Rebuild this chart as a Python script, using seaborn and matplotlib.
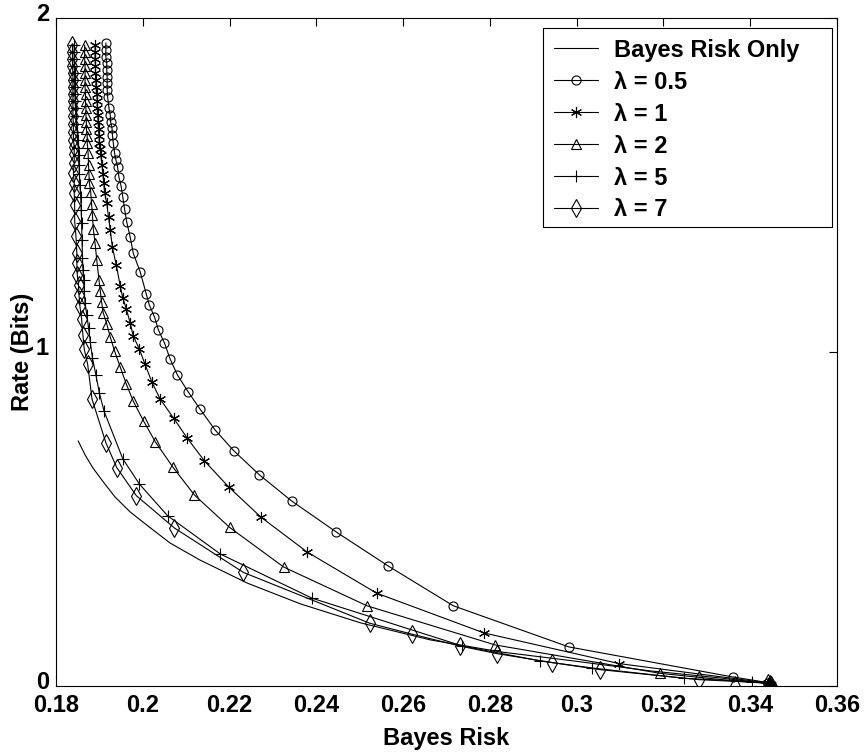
import numpy as np
import matplotlib
matplotlib.use("Agg")
import matplotlib.pyplot as plt
import matplotlib.transforms as mtransforms
from matplotlib.patches import Rectangle
import seaborn as sns

# Rate versus Bayes risk for the plain Bayes-risk design and several lambda weights
risk_bayes = [0.1851, 0.1867, 0.1885, 0.1909, 0.1936, 0.1971, 0.2015, 0.2063, 0.2132,
              0.2241, 0.2363, 0.2502, 0.2663, 0.2825, 0.2993, 0.3171, 0.3332, 0.3448]
rate_bayes = [0.734, 0.692, 0.653, 0.611, 0.566, 0.521, 0.476, 0.428, 0.377,
              0.308, 0.246, 0.189, 0.138, 0.102, 0.075, 0.045, 0.024, 0.006]

risk_l05 = [0.1915, 0.1915, 0.1915, 0.1917, 0.1917, 0.1918, 0.1918, 0.1918, 0.1919,
            0.1922, 0.1925, 0.1926, 0.1929, 0.1930, 0.1932, 0.1935, 0.1938, 0.1942, 0.1945,
            0.1950, 0.1954, 0.1958, 0.1963, 0.1971, 0.1978, 0.1994, 0.2008, 0.2015, 0.2027,
            0.2036, 0.2050, 0.2063, 0.2080, 0.2105, 0.2132, 0.2167, 0.2210, 0.2269, 0.2343,
            0.2446, 0.2566, 0.2716, 0.2982, 0.3360, 0.3442, 0.3445, 0.3448]
rate_l05 = [1.925, 1.904, 1.883, 1.865, 1.844, 1.823, 1.805, 1.784, 1.763,
            1.731, 1.710, 1.689, 1.671, 1.650, 1.626, 1.596, 1.575, 1.554, 1.524,
            1.497, 1.464, 1.428, 1.389, 1.344, 1.296, 1.240, 1.174, 1.141, 1.105,
            1.066, 1.027, 0.979, 0.931, 0.880, 0.829, 0.766, 0.704, 0.632, 0.554,
            0.461, 0.359, 0.240, 0.117, 0.027, 0.010, 0.006, 0.004]

risk_l1 = [0.1890, 0.1890, 0.1890, 0.1891, 0.1891, 0.1892, 0.1892, 0.1894, 0.1895,
           0.1895, 0.1896, 0.1897, 0.1898, 0.1899, 0.1900, 0.1902, 0.1903, 0.1906, 0.1908,
           0.1910, 0.1912, 0.1917, 0.1921, 0.1925, 0.1930, 0.1939, 0.1948, 0.1954, 0.1962,
           0.1971, 0.1978, 0.1992, 0.2005, 0.2021, 0.2040, 0.2071, 0.2102, 0.2142, 0.2198,
           0.2272, 0.2379, 0.2539, 0.2786, 0.3098, 0.3442, 0.3445, 0.3448]
rate_l1 = [1.919, 1.898, 1.877, 1.856, 1.835, 1.814, 1.793, 1.772, 1.751,
           1.731, 1.710, 1.689, 1.668, 1.647, 1.626, 1.608, 1.590, 1.560, 1.533,
           1.506, 1.476, 1.446, 1.404, 1.365, 1.314, 1.260, 1.198, 1.162, 1.129,
           1.087, 1.048, 1.009, 0.964, 0.910, 0.859, 0.802, 0.743, 0.674, 0.596,
           0.506, 0.401, 0.278, 0.159, 0.067, 0.009, 0.006, 0.004]

risk_l2 = [0.1866, 0.1866, 0.1866, 0.1867, 0.1867, 0.1867, 0.1867, 0.1868, 0.1868,
           0.1869, 0.1869, 0.1870, 0.1870, 0.1872, 0.1872, 0.1874, 0.1875, 0.1876, 0.1877,
           0.1880, 0.1882, 0.1884, 0.1886, 0.1890, 0.1894, 0.1899, 0.1902, 0.1905, 0.1909,
           0.1917, 0.1925, 0.1935, 0.1948, 0.1962, 0.1978, 0.2002, 0.2029, 0.2069, 0.2119,
           0.2200, 0.2325, 0.2517, 0.2812, 0.3192, 0.3365, 0.3443, 0.3446, 0.3448]
rate_l2 = [1.919, 1.898, 1.877, 1.856, 1.835, 1.814, 1.793, 1.772, 1.751,
           1.731, 1.710, 1.689, 1.668, 1.647, 1.626, 1.596, 1.560, 1.533, 1.506,
           1.479, 1.443, 1.409, 1.368, 1.326, 1.275, 1.216, 1.183, 1.150, 1.117,
           1.084, 1.045, 1.003, 0.955, 0.904, 0.853, 0.793, 0.731, 0.656, 0.572,
           0.475, 0.356, 0.240, 0.123, 0.038, 0.015, 0.008, 0.005, 0.004]

risk_l5 = [0.1842, 0.1842, 0.1842, 0.1842, 0.1843, 0.1843, 0.1843, 0.1844, 0.1844,
           0.1845, 0.1846, 0.1847, 0.1849, 0.1850, 0.1851, 0.1852, 0.1853, 0.1854, 0.1855,
           0.1857, 0.1858, 0.1859, 0.1860, 0.1861, 0.1862, 0.1864, 0.1865, 0.1867, 0.1871,
           0.1875, 0.1879, 0.1884, 0.1892, 0.1900, 0.1911, 0.1954, 0.1992, 0.2057, 0.2179,
           0.2390, 0.2736, 0.2916, 0.3035, 0.3248, 0.3404, 0.3444, 0.3446, 0.3448]
rate_l5 = [1.919, 1.898, 1.877, 1.856, 1.835, 1.814, 1.793, 1.772, 1.751,
           1.731, 1.707, 1.683, 1.659, 1.635, 1.611, 1.590, 1.560, 1.533, 1.500,
           1.464, 1.425, 1.386, 1.335, 1.281, 1.246, 1.216, 1.183, 1.147, 1.111,
           1.072, 1.030, 0.982, 0.931, 0.877, 0.822, 0.680, 0.605, 0.510, 0.395,
           0.263, 0.120, 0.075, 0.054, 0.023, 0.013, 0.008, 0.006, 0.004]

risk_l7 = [0.1838, 0.1838, 0.1838, 0.1838, 0.1839, 0.1839, 0.1839, 0.1839, 0.1839,
           0.1839, 0.1839, 0.1840, 0.1840, 0.1840, 0.1842, 0.1842, 0.1842, 0.1840, 0.1842,
           0.1842, 0.1843, 0.1843, 0.1846, 0.1848, 0.1848, 0.1849, 0.1852, 0.1853, 0.1855,
           0.1859, 0.1862, 0.1865, 0.1873, 0.1883, 0.1915, 0.1940, 0.1985, 0.2073, 0.2232,
           0.2523, 0.2621, 0.2730, 0.2816, 0.2944, 0.3054, 0.3282, 0.3442, 0.3445, 0.3448]
rate_l7 = [1.919, 1.898, 1.877, 1.856, 1.835, 1.814, 1.793, 1.772, 1.751,
           1.731, 1.707, 1.683, 1.659, 1.635, 1.614, 1.593, 1.566, 1.536, 1.506,
           1.476, 1.440, 1.392, 1.347, 1.296, 1.266, 1.231, 1.201, 1.171, 1.138,
           1.099, 1.051, 1.009, 0.963, 0.859, 0.728, 0.654, 0.570, 0.473, 0.340,
           0.188, 0.155, 0.120, 0.097, 0.070, 0.049, 0.019, 0.009, 0.006, 0.004]

series_labels = ["Bayes Risk Only", "λ = 0.5", "λ = 1", "λ = 2", "λ = 5", "λ = 7"]
x_ticks = [0.18, 0.20, 0.22, 0.24, 0.26, 0.28, 0.30, 0.32, 0.34, 0.36]
x_tick_labels = ["0.18", "0.2", "0.22", "0.24", "0.26", "0.28", "0.3", "0.32", "0.34", "0.36"]
y_ticks = [0, 1, 2]
y_tick_labels = ["0", "1", "2"]

sns.set_theme(style="white")
plt.rcParams["font.family"] = ["Liberation Sans", "DejaVu Sans"]
plt.rcParams["font.weight"] = "bold"
plt.rcParams["axes.labelweight"] = "bold"
plt.rcParams["text.color"] = "black"
plt.rcParams["axes.labelcolor"] = "black"
plt.rcParams["xtick.color"] = "black"
plt.rcParams["ytick.color"] = "black"

fig = plt.figure(figsize=(8.65, 7.53), dpi=100)
ax = fig.add_axes([56 / 865, 67 / 753, 781 / 865, 668 / 753])

styles = [
    (risk_bayes, rate_bayes, None, 0),
    (risk_l05, rate_l05, "o", 6.5),
    (risk_l1, rate_l1, (6, 2, 0), 8),
    (risk_l2, rate_l2, "^", 7.5),
    (risk_l5, rate_l5, "+", 9),
    (risk_l7, rate_l7, "d", 9),
]

for (xs, ys, mk, ms), lab in zip(styles, series_labels):
    kw = dict(color="black", linewidth=0.8)
    if mk is not None:
        kw.update(marker=mk, markersize=ms, markerfacecolor="none",
                  markeredgecolor="black", markeredgewidth=0.8)
    sns.lineplot(x=xs, y=ys, ax=ax, sort=False, estimator=None,
                 label=lab, legend=False, **kw)

ax.set_xlim(0.18, 0.36)
ax.set_ylim(0, 2)
ax.set_xticks(x_ticks)
ax.set_xticklabels(x_tick_labels)
ax.set_yticks(y_ticks)
ax.set_yticklabels(y_tick_labels)
ax.tick_params(direction="in", length=6, width=0.8, top=True, right=True,
               labelsize=17, colors="black")
ax.tick_params(axis="x", pad=6)
ax.tick_params(axis="y", pad=5)
for sp in ax.spines.values():
    sp.set_visible(True)
    sp.set_color("black")
    sp.set_linewidth(0.8)

# y tick labels sit slightly above their ticks
lift = mtransforms.ScaledTranslation(0, 6 / 100, fig.dpi_scale_trans)
for lbl in ax.get_yticklabels():
    lbl.set_transform(lbl.get_transform() + lift)

ax.set_xlabel("Bayes Risk", fontsize=17, fontweight="bold", labelpad=7)
ax.set_ylabel("Rate (Bits)", fontsize=17, fontweight="bold", labelpad=1)

# legend without its own frame; a plain box is drawn around it
handles, labels = ax.get_legend_handles_labels()
box_x0, box_y0 = (543 - 56) / 781, (686 - 227) / 668
box_w, box_h = (832 - 543) / 781, (227 - 28) / 668
leg = ax.legend(handles, labels, loc="upper left",
                bbox_to_anchor=(box_x0, box_y0 + box_h),
                borderaxespad=0, frameon=False, fontsize=17, handlelength=1.9,
                handletextpad=0.65, labelspacing=0.38, borderpad=0.45, numpoints=1)
leg.set_zorder(5)
ax.add_patch(Rectangle((box_x0, box_y0), box_w, box_h, transform=ax.transAxes,
                       facecolor="white", edgecolor="black", linewidth=0.8, zorder=4))

fig.savefig("out.png", dpi=100, facecolor="white")
